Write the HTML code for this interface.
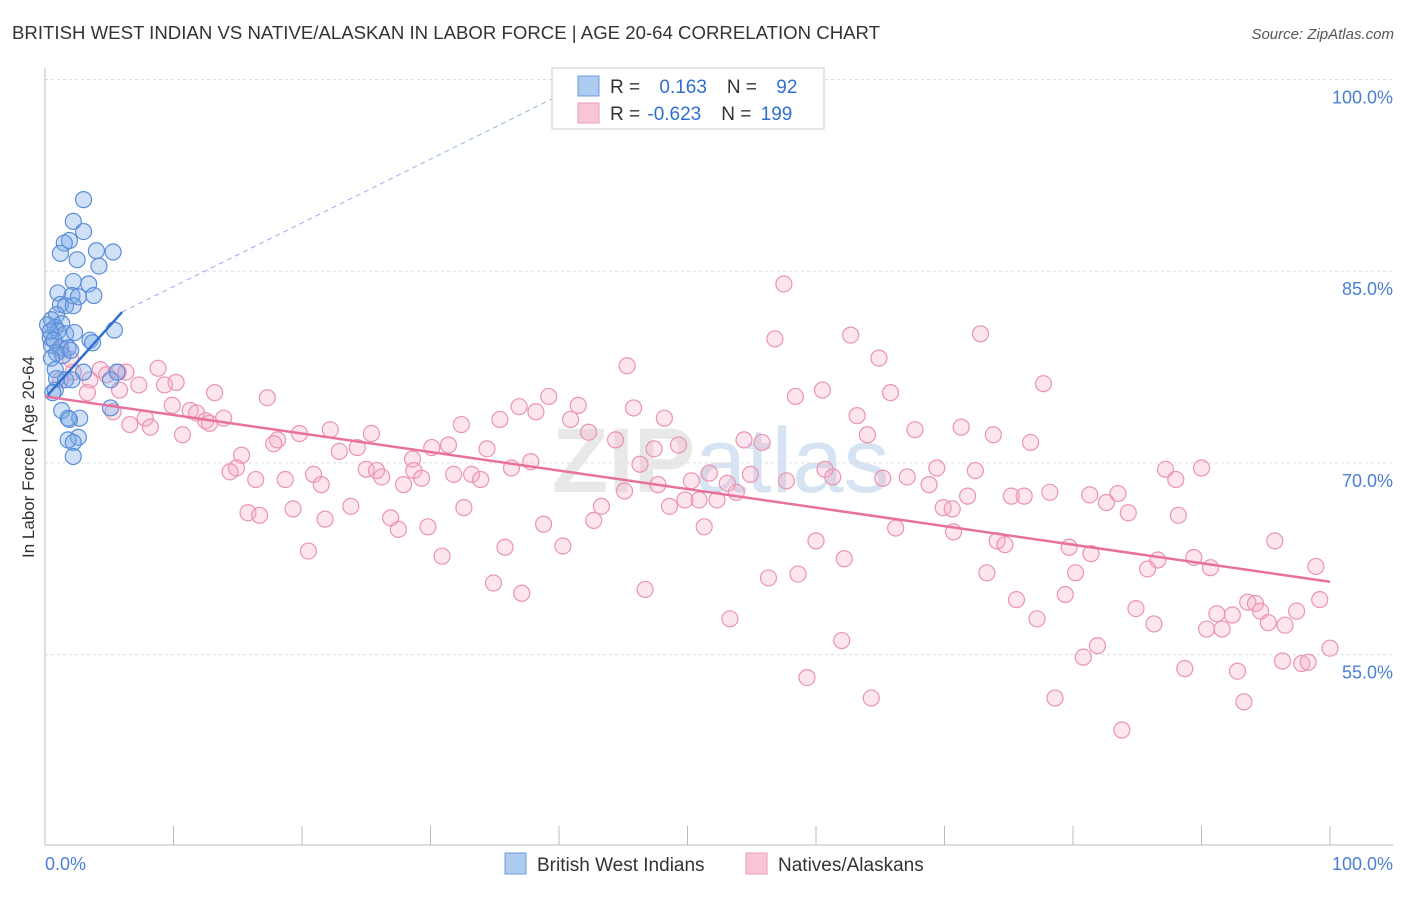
<!DOCTYPE html>
<html><head><meta charset="utf-8">
<style>
body{margin:0;background:#fff;font-family:"Liberation Sans",sans-serif;}
svg text{font-family:"Liberation Sans",sans-serif;}
</style></head>
<body>
<svg width="1406" height="892" xmlns="http://www.w3.org/2000/svg">
<text x="12" y="39" font-size="18.6" fill="#333" textLength="868">BRITISH WEST INDIAN VS NATIVE/ALASKAN IN LABOR FORCE | AGE 20-64 CORRELATION CHART</text>
<text x="1394" y="39" font-size="15" fill="#555" font-style="italic" text-anchor="end">Source: ZipAtlas.com</text>
<text x="552" y="492" font-size="92" fill="#e8e8e8" font-weight="bold">ZIP<tspan fill="#d6e3f3" font-weight="normal">atlas</tspan></text>
<g id="grid"></g>
<g id="axes"></g>
<g id="pts"></g>
<g id="trends"></g>
<text transform="translate(34,457) rotate(-90)" font-size="17" fill="#333" text-anchor="middle">In Labor Force | Age 20-64</text>
<text x="45" y="870" font-size="18" fill="#4a7fd4">0.0%</text>
<text x="1393" y="870" font-size="18" fill="#4a7fd4" text-anchor="end">100.0%</text>
<g>
<rect x="552" y="68" width="272" height="61" fill="#fff" stroke="#ccc"/>
<rect x="578" y="76" width="21" height="20" fill="#aecbf0" stroke="#6b9be0"/>
<rect x="578" y="103" width="21" height="20" fill="#f8c6d6" stroke="#ea9ab5"/>
<text x="610" y="93" font-size="19" fill="#333">R = <tspan fill="#2f6fd0" dx="14">0.163</tspan><tspan dx="20" fill="#333">N = </tspan><tspan fill="#2f6fd0" dx="14">92</tspan></text>
<text x="610" y="120" font-size="19" fill="#333">R = <tspan fill="#2f6fd0" dx="2">-0.623</tspan><tspan dx="20" fill="#333">N = </tspan><tspan fill="#2f6fd0" dx="4">199</tspan></text>
</g>
<g>
<rect x="505" y="853" width="21" height="21" fill="#aecbf0" stroke="#6b9be0"/>
<text x="537" y="871" font-size="19" fill="#333">British West Indians</text></g>
<g>
<rect x="746" y="853" width="21" height="21" fill="#f8c6d6" stroke="#ea9ab5"/>
<text x="778" y="871" font-size="19" fill="#333">Natives/Alaskans</text></g>
</svg>
<script>
const yTicks=[100,85,70,55];
const xTicks=[0,10,20,30,40,50,60,70,80,90,100];
const blueX=[3.0,2.2,3.0,1.9,1.5,4.0,5.3,1.2,2.5,4.2,2.2,3.4,1.0,2.1,3.8,2.6,1.2,1.6,2.2,0.9,0.5,1.3,5.4,0.8,1.0,1.6,2.3,0.4,3.5,3.7,0.5,1.2,1.8,0.9,1.4,2.0,0.5,0.8,3.0,5.6,0.9,1.6,2.1,5.1,0.8,0.6,5.1,1.3,1.8,2.7,1.9,2.6,1.8,2.2,2.2,0.2,0.4,0.7];
const blueY=[90.6,88.9,88.1,87.4,87.2,86.6,86.5,86.4,85.9,85.4,84.2,84.0,83.3,83.1,83.1,83.0,82.4,82.3,82.3,81.6,81.2,80.9,80.4,80.6,80.3,80.1,80.2,79.8,79.6,79.4,79.2,79.0,79.0,78.6,78.4,78.8,78.2,77.3,77.1,77.1,76.6,76.5,76.5,76.5,75.7,75.5,74.3,74.1,73.5,73.5,73.4,72.0,71.8,71.6,70.5,80.8,80.3,79.6];
const pinkX=[57.5,56.8,62.7,72.8,64.9,45.3,77.7,60.5,58.4,65.8,45.8,39.2,41.5,36.9,38.2,35.4,48.2,63.2,40.9,32.4,42.3,44.4,64.0,67.7,71.3,73.8,76.7,54.4,55.8,49.3,47.4,34.4,31.4,30.1,25.4,22.2,24.3,22.9,18.1,17.8,19.8,17.3,13.2,15.3,14.9,14.4,16.4,18.7,20.9,21.5,25.0,25.8,26.2,28.6,28.7,29.3,27.9,31.8,33.2,33.9,36.3,37.8,46.3,45.1,43.3,42.7,38.8,32.6,29.8,27.5,26.9,23.8,21.8,19.3,15.8,16.7,20.5,30.9,35.8,40.3,34.9,37.1,46.7,48.6,49.8,50.9,52.3,53.8,53.1,51.7,50.3,47.7,54.9,57.7,60.7,61.3,65.2,67.1,69.4,68.8,72.4,71.8,69.9,70.6,75.2,76.2,78.2,81.3,83.5,82.6,84.3,87.2,90.0,88.0,88.2,51.3,66.2,70.7,60.0,74.1,74.7,79.7,81.4,62.2,86.6,85.8,89.4,90.7,95.7,98.9,56.3,58.6,73.3,80.2,79.4,75.6,84.9,91.2,92.4,93.6,94.2,94.6,95.2,96.5,97.4,99.2,77.2,86.3,90.4,91.6,53.3,62.0,81.9,80.8,88.7,92.8,96.3,97.8,98.3,100,59.3,64.3,78.6,93.3,83.8,1.2,2.2,1.2,3.3,4.3,4.8,5.7,6.3,5.8,5.3,6.6,7.3,7.8,8.2,8.8,9.3,10.2,9.9,10.7,11.3,11.8,12.5,12.8,13.9,2.0,3.5];
const pinkY=[84.0,79.7,80.0,80.1,78.2,77.6,76.2,75.7,75.2,75.5,74.3,75.2,74.5,74.4,74.0,73.4,73.5,73.7,73.4,73.0,72.4,71.8,72.2,72.6,72.8,72.2,71.6,71.8,71.6,71.4,71.1,71.1,71.4,71.2,72.3,72.6,71.2,70.9,71.8,71.5,72.3,75.1,75.5,70.6,69.6,69.3,68.7,68.7,69.1,68.3,69.5,69.4,68.9,70.3,69.4,68.8,68.3,69.1,69.1,68.7,69.6,70.1,69.9,67.8,66.6,65.5,65.2,66.5,65.0,64.8,65.7,66.6,65.6,66.4,66.1,65.9,63.1,62.7,63.4,63.5,60.6,59.8,60.1,66.6,67.1,67.1,67.1,67.7,68.4,69.2,68.6,68.3,69.1,68.6,69.5,68.9,68.8,68.9,69.6,68.3,69.4,67.4,66.5,66.4,67.4,67.4,67.7,67.5,67.6,66.9,66.1,69.5,69.6,68.7,65.9,65.0,64.9,64.6,63.9,63.9,63.6,63.4,62.9,62.5,62.4,61.7,62.6,61.8,63.9,61.9,61.0,61.3,61.4,61.4,59.7,59.3,58.6,58.2,58.1,59.1,59.0,58.4,57.5,57.3,58.4,59.3,57.8,57.4,57.0,57.0,57.8,56.1,55.7,54.8,53.9,53.7,54.5,54.3,54.4,55.5,53.2,51.6,51.6,51.3,49.1,78.8,77.1,76.5,75.5,77.3,76.9,77.1,77.1,75.7,74.0,73.0,76.1,73.5,72.8,77.4,76.1,76.3,74.5,72.2,74.1,73.9,73.3,73.1,73.5,78.1,76.5];
const blueTrendX=[0.2,6.0,39.7];
const blueTrendY=[75.3,81.8,98.6];
const pinkTrendX=[0,100];
const pinkTrendY=[75.2,60.7];

const NS="http://www.w3.org/2000/svg";
const sx=v=>45+v*12.85;
const sy=v=>79.5+(100-v)*12.78;
function mk(tag,attrs,parent){const e=document.createElementNS(NS,tag);for(const k in attrs)e.setAttribute(k,attrs[k]);document.getElementById(parent).appendChild(e);return e;}
yTicks.forEach(t=>{
 const g=mk('line',{x1:45,x2:1393,y1:sy(t),y2:sy(t),stroke:'#ddd','stroke-dasharray':'3,3'},'grid');
 
 
 const l=mk('text',{x:1393,y:sy(t)+24,'font-size':18,fill:'#4a7fd4','text-anchor':'end'},'grid');
 l.textContent=t.toFixed(1)+'%';
 
 
});
const ax=mk('line',{x1:45,x2:45,y1:68,y2:845,stroke:'#bbb'},'axes');


const bx=mk('line',{x1:45,x2:1393,y1:845,y2:845,stroke:'#bbb'},'axes');


xTicks.forEach(t=>{
 const k=mk('line',{x1:sx(t),x2:sx(t),y1:826,y2:845,stroke:'#bbb'},'axes');
 
 
});
pinkX.forEach((x,i)=>{
 const c=mk('circle',{cx:sx(x),cy:sy(pinkY[i]),r:8,fill:'rgba(244,170,197,0.3)',stroke:'#eb93b3','stroke-width':1.2},'pts');
 
 
});
blueX.forEach((x,i)=>{
 const c=mk('circle',{cx:sx(x),cy:sy(blueY[i]),r:8,fill:'rgba(120,165,230,0.35)',stroke:'#5a8fd8','stroke-width':1.2},'pts');
 
 
});
const pt=mk('line',{x1:sx(pinkTrendX[0]),y1:sy(pinkTrendY[0]),x2:sx(pinkTrendX[1]),y2:sy(pinkTrendY[1]),stroke:'#e8719b','stroke-width':2.5},'trends');


const bt=mk('line',{x1:sx(blueTrendX[0]),y1:sy(blueTrendY[0]),x2:sx(blueTrendX[1]),y2:sy(blueTrendY[1]),stroke:'#2f6fd0','stroke-width':2.5},'trends');


const bd=mk('line',{x1:sx(blueTrendX[1]),y1:sy(blueTrendY[1]),x2:sx(blueTrendX[2]),y2:sy(blueTrendY[2]),stroke:'#8fb2e6','stroke-width':1,'stroke-dasharray':'5,4'},'trends');


</script>
</body></html>
